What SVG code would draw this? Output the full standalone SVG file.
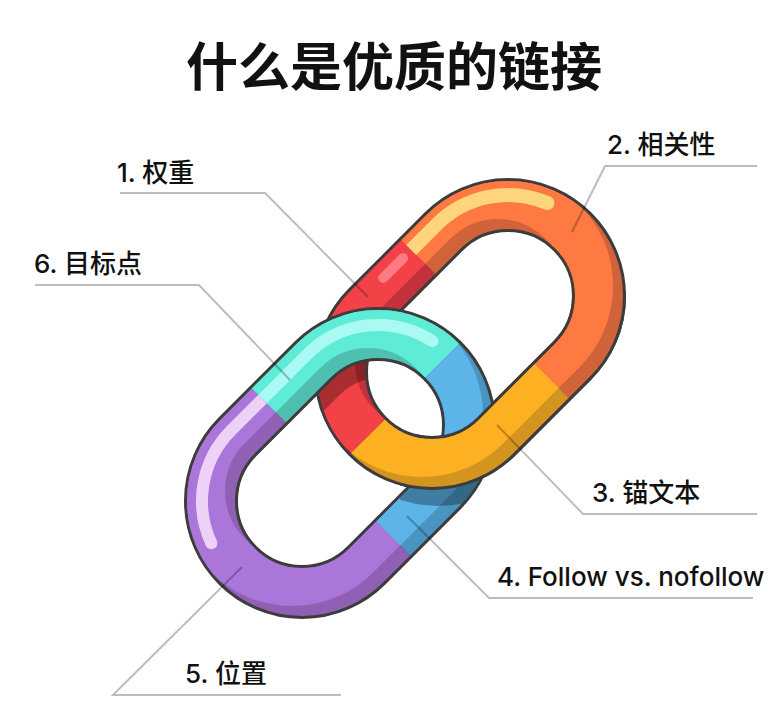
<svg xmlns="http://www.w3.org/2000/svg" xmlns:xlink="http://www.w3.org/1999/xlink" width="779" height="709" viewBox="0 0 779 709">
<style>
.seg{fill:none;stroke-width:48;stroke-linecap:butt;stroke-linejoin:round}
.ol{fill:none;stroke:#3c3c3c;stroke-width:54}
.hl{fill:none;stroke-linecap:butt}
.lead{fill:none;stroke:#000;stroke-opacity:.26;stroke-width:2}
.lbl{font-family:Inter,"Noto Sans CJK SC",sans-serif;font-size:26px;font-weight:500;fill:#111}
.title{font-family:"Noto Sans CJK SC",sans-serif;font-weight:700;font-size:52px;fill:#111}
</style>
<defs>
<path id="ringA" d="M367.65,307.65 L443.65,231.65 A91,91 0 0 1 572.35,231.65 A91,91 0 0 1 572.35,360.35 L496.35,436.35 A91,91 0 0 1 367.65,436.35 A91,91 0 0 1 367.65,307.65 Z"/>
<path id="ringB" d="M237.65,436.65 L313.65,360.65 A91,91 0 0 1 442.35,360.65 A91,91 0 0 1 442.35,489.35 L366.35,565.35 A91,91 0 0 1 237.65,565.35 A91,91 0 0 1 237.65,436.65 Z"/>
<path id="aO" d="M418.19,257.11 L443.65,231.65 A91,91 0 0 1 572.35,231.65 A91,91 0 0 1 572.35,360.35 L551.85,380.85"/>
<path id="aY" d="M551.85,380.85 L496.35,436.35 A91,91 0 0 1 367.65,436.35"/>
<path id="aR" d="M367.65,436.35 A91,91 0 0 1 367.65,307.65 L418.19,257.11"/>
<path id="bC" d="M268.76,405.54 L313.65,360.65 A91,91 0 0 1 442.35,360.65"/>
<path id="bB" d="M442.35,360.65 A91,91 0 0 1 442.35,489.35 L393.22,538.48"/>
<path id="bP" d="M393.22,538.48 L366.35,565.35 A91,91 0 0 1 237.65,565.35 A91,91 0 0 1 237.65,436.65 L268.76,405.54"/>
<mask id="mA" maskUnits="userSpaceOnUse" x="0" y="0" width="779" height="709">
<use xlink:href="#ringA" fill="none" stroke="#fff" stroke-width="48" transform="translate(-10,-10)"/>
</mask>
<mask id="mB" maskUnits="userSpaceOnUse" x="0" y="0" width="779" height="709">
<use xlink:href="#ringB" fill="none" stroke="#fff" stroke-width="48" transform="translate(-10,-10)"/>
</mask>
<mask id="onA" maskUnits="userSpaceOnUse" x="0" y="0" width="779" height="709">
<use xlink:href="#ringA" fill="none" stroke="#fff" stroke-width="48"/>
</mask>
<mask id="onB" maskUnits="userSpaceOnUse" x="0" y="0" width="779" height="709">
<use xlink:href="#ringB" fill="none" stroke="#fff" stroke-width="48"/>
</mask>
<mask id="cross2" maskUnits="userSpaceOnUse" x="0" y="0" width="779" height="709">
<polygon points="400,450 560,290 779,290 779,709 400,709" fill="#fff"/>
</mask>
</defs>

<g id="title">
<text class="title" x="394" y="86" text-anchor="middle">什么是优质的链接</text>
</g>

<g id="linkA">
<use xlink:href="#ringA" class="ol"/>
<use xlink:href="#aO" class="seg" stroke="#d0633a"/>
<use xlink:href="#aY" class="seg" stroke="#d3951f"/>
<use xlink:href="#aR" class="seg" stroke="#c3313a"/>
<g mask="url(#mA)">
<use xlink:href="#aO" class="seg" stroke="#fe7a42"/>
<use xlink:href="#aY" class="seg" stroke="#fdb022"/>
<use xlink:href="#aR" class="seg" stroke="#f24147"/>
</g>
<path d="M383.21,277.95 L403.01,258.15" fill="none" stroke="#ff7b84" stroke-width="10" stroke-linecap="round"/>
<path class="hl" d="M411.14,250.02 L436.58,224.58 A101,101 0 0 1 547.46,203.03" stroke="#ffd57b" stroke-width="14"/>
<circle cx="547.46" cy="203.03" r="7" fill="#ffd57b"/>
</g>

<g id="shadowBonA" mask="url(#onA)">
<use xlink:href="#ringB" fill="none" stroke="#000" stroke-opacity="0.3" stroke-width="54" transform="translate(6,16)"/>
</g>

<g id="linkB">
<use xlink:href="#ringB" class="ol"/>
<use xlink:href="#bC" class="seg" stroke="#4fc0b0"/>
<use xlink:href="#bB" class="seg" stroke="#4a94c2"/>
<use xlink:href="#bP" class="seg" stroke="#8f60b3"/>
<g mask="url(#mB)">
<use xlink:href="#bC" class="seg" stroke="#5eecd6"/>
<use xlink:href="#bB" class="seg" stroke="#5cb4e8"/>
<use xlink:href="#bP" class="seg" stroke="#ab76d9"/>
</g>
<path class="hl" d="M211.37,543.26 A100,100 0 0 1 231.29,430.29 L262.40,399.18" stroke="#edd1f7" stroke-width="12"/>
<circle cx="211.37" cy="543.26" r="6" fill="#edd1f7"/>
<path class="hl" d="M262.40,399.18 L307.29,354.29 A100,100 0 0 1 432.46,341.13" stroke="#a9faf3" stroke-width="12"/>
<circle cx="432.46" cy="341.13" r="6" fill="#a9faf3"/>
</g>

<g id="linkAFront" mask="url(#cross2)">
<g mask="url(#onB)">
<use xlink:href="#ringA" fill="none" stroke="#000" stroke-opacity="0.3" stroke-width="54" transform="translate(6,16)"/>
</g>
<use xlink:href="#linkA"/>
</g>

<g id="connectors">
<path class="lead" d="M120,193 H265 L368,297"/>
<path class="lead" d="M35,285 H199 L290,380"/>
<path class="lead" d="M757,166 H605 L572,232"/>
<path class="lead" d="M497,425 L583,514 H757"/>
<path class="lead" d="M407,516 L489,598 H753"/>
<path class="lead" d="M242,567 L113,695 H341"/>
</g>

<g id="label1"><text class="lbl" x="117" y="182">1. 权重</text></g>
<g id="label2"><text class="lbl" x="607" y="154">2. 相关性</text></g>
<g id="label3"><text class="lbl" x="592" y="502">3. 锚文本</text></g>
<g id="label4"><text class="lbl" x="497" y="586">4. Follow vs. nofollow</text></g>
<g id="label5"><text class="lbl" x="185" y="683">5. 位置</text></g>
<g id="label6"><text class="lbl" x="34" y="273">6. 目标点</text></g>
</svg>
